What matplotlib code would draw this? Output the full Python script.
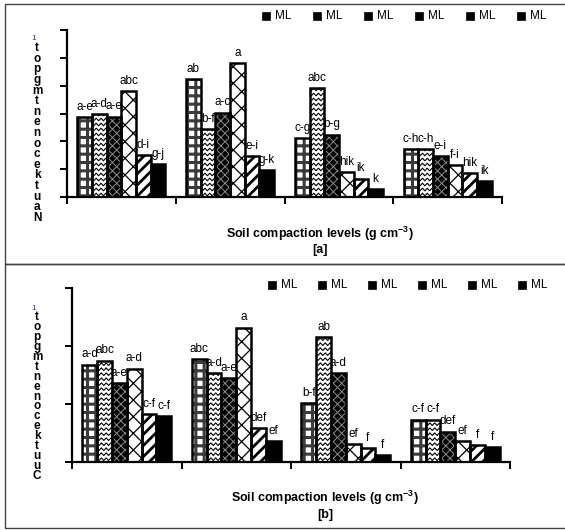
import numpy as np
import matplotlib
matplotlib.use("Agg")
import matplotlib.pyplot as plt
from matplotlib.patches import Rectangle
from matplotlib.lines import Line2D

# ---------------- data ----------------
groups = ["C1", "C2", "C3", "C4"]
series = ["ML", "ML", "ML", "ML", "ML", "ML"]

vals_a = [
    [2.87, 2.99, 2.89, 3.81, 1.51, 1.18],
    [4.23, 2.45, 3.03, 4.81, 1.47, 0.96],
    [2.11, 3.91, 2.24, 0.90, 0.66, 0.29],
    [1.73, 1.73, 1.46, 1.16, 0.87, 0.58],
]
labels_a = [
    ["a-e", "a-d", "a-e", "abc", "d-i", "g-j"],
    ["ab", "b-f", "a-c", "a", "e-i", "g-k"],
    ["c-g", "abc", "b-g", "hik", "ik", "k"],
    ["c-h", "c-h", "e-i", "f-i", "hik", "ik"],
]
vals_b = [
    [1.68, 1.75, 1.36, 1.61, 0.83, 0.79],
    [1.77, 1.54, 1.45, 2.32, 0.58, 0.36],
    [1.01, 2.15, 1.53, 0.31, 0.23, 0.12],
    [0.73, 0.73, 0.52, 0.36, 0.29, 0.26],
]
labels_b = [
    ["a-d", "abc", "a-e", "a-d", "c-f", "c-f"],
    ["abc", "a-d", "a-e", "a", "def", "ef"],
    ["b-f", "ab", "a-d", "ef", "f", "f"],
    ["c-f", "c-f", "def", "ef", "f", "f"],
]
ylab_a = ["t", "o", "p", "g", "m", "t", "n", "e", "n", "o", "c", "e", "k", "t", "u", "a", "N"]
ylab_b = ["t", "o", "p", "g", "m", "t", "n", "e", "n", "o", "c", "e", "k", "t", "u", "u", "C"]
xlabel = "Soil compaction levels (g cm$^{\\mathregular{-3}}$)"

FONT = ["Liberation Sans Narrow", "Liberation Sans", "DejaVu Sans"]
plt.rcParams["font.family"] = FONT

W, H = 565, 530
fig = plt.figure(figsize=(W / 100, H / 100), dpi=100)

def fx(px):
    return px / W

def fy(py):
    return 1 - py / H

# styles per series: (face, hatch, hatchcolor, hatch lw)
styles = [
    ("white", "++", "#3a3a3a", 2.2),
    ("white", None, None, 0),       # zigzag drawn manually
    ("black", "xxxx", "#8a8a8a", 0.7),
    ("white", "xx", "black", 0.9),
    ("white", "///", "black", 2.0),
    ("black", None, None, 0),
]

BW = 0.135


def draw_panel(ax, vals, labels, ymax):
    vals = np.array(vals)
    x = np.arange(len(groups))
    ax.set_xlim(-0.5, len(groups) - 0.5)
    ax.set_ylim(0, ymax)
    for i in range(6):
        xs = x + (i - 2.5) * BW
        face, hatch, hc, hlw = styles[i]
        with plt.rc_context({"hatch.linewidth": max(hlw, 0.1)}):
            fills = ax.bar(xs, vals[:, i], width=BW, color=face,
                           edgecolor=hc if hc else face, linewidth=0,
                           hatch=hatch, zorder=2)
        ax.bar(xs, vals[:, i], width=BW, fill=False,
               edgecolor="black", linewidth=1.8, zorder=4)
        if i == 1:
            # zigzag pattern clipped to each bar
            p2d = ax.transData
            inv = p2d.inverted()
            for rect, xc, v in zip(fills.patches, xs, vals[:, i]):
                x0, y0 = p2d.transform((xc - BW / 2, 0))
                x1, y1 = p2d.transform((xc + BW / 2, v))
                yy = y0 + 2.5
                while yy < y1 + 4:
                    px = np.arange(x0 - 3, x1 + 4, 2.4)
                    py = yy + np.where(np.arange(len(px)) % 2 == 0, -1.3, 1.3)
                    pts = inv.transform(np.column_stack([px, py]))
                    ln = Line2D(pts[:, 0], pts[:, 1], color="black", lw=0.8,
                                zorder=3)
                    ax.add_line(ln)
                    ln.set_clip_path(rect)
                    yy += 5.0
        for xc, v, lab in zip(xs, vals[:, i], [labels[g][i] for g in range(len(groups))]):
            ax.annotate(lab, (xc, v), xytext=(0, 3), textcoords="offset points",
                        ha="center", va="bottom", fontsize=8.5, zorder=5)
    for s in ["top", "right"]:
        ax.spines[s].set_visible(False)
    for s in ["left", "bottom"]:
        ax.spines[s].set_linewidth(1.6)
    ax.set_yticks(np.arange(0, ymax + 0.01, 1))
    ax.set_yticklabels([])
    ax.set_xticks(np.arange(-0.5, len(groups), 1))
    ax.set_xticklabels([])
    ax.tick_params(axis="both", direction="out", length=5, width=1.4)


# panel a
ax1 = fig.add_axes([fx(67), fy(197), fx(502 - 67), (197 - 30) / H])
draw_panel(ax1, vals_a, labels_a, 6)
# panel b
ax2 = fig.add_axes([fx(72), fy(461.7), fx(510 - 72), (461.7 - 288.3) / H])
draw_panel(ax2, vals_b, labels_b, 3)

# legends (drawn by hand as a row)
def legend_row(y_px, x_start, step):
    for i, name in enumerate(series):
        x = x_start + i * step
        fig.patches.append(Rectangle((fx(x - 4), fy(y_px + 4)), 8 / W, 8 / H,
                                     transform=fig.transFigure, facecolor="black",
                                     edgecolor="black", lw=0.5))
        fig.text(fx(x + 9), fy(y_px), name, ha="left", va="center", fontsize=8.5)

legend_row(16, 266, 51)
legend_row(285, 272, 50)

# x labels
fig.text(fx(320), fy(234), xlabel, ha="center", va="center", fontsize=9, fontweight="bold")
fig.text(fx(320), fy(250), "[a]", ha="center", va="center", fontsize=9, fontweight="bold")
fig.text(fx(325), fy(498), xlabel, ha="center", va="center", fontsize=9, fontweight="bold")
fig.text(fx(325), fy(515), "[b]", ha="center", va="center", fontsize=9, fontweight="bold")

# stacked y labels
def stacked(chars, x_px, y0, y1):
    ys = np.linspace(y0, y1, len(chars))
    fig.text(fx(x_px - 3), fy(y0 - 9), "1", ha="center", va="center", fontsize=6,
             color="#4b2a7a")
    for c, y in zip(chars, ys):
        fig.text(fx(x_px), fy(y), c, ha="center", va="center", fontsize=8.5,
                 fontweight="bold")

stacked(ylab_a, 37, 48, 218)
stacked(ylab_b, 37, 317, 476)

# frames
for (y0, y1) in [(4, 264), (264, 528)]:
    fig.patches.append(Rectangle((fx(5), fy(y1)), fx(570 - 5), (y1 - y0) / H,
                                 transform=fig.transFigure, fill=False,
                                 edgecolor="#444444", lw=1.0))

fig.savefig("out.png", dpi=100)
